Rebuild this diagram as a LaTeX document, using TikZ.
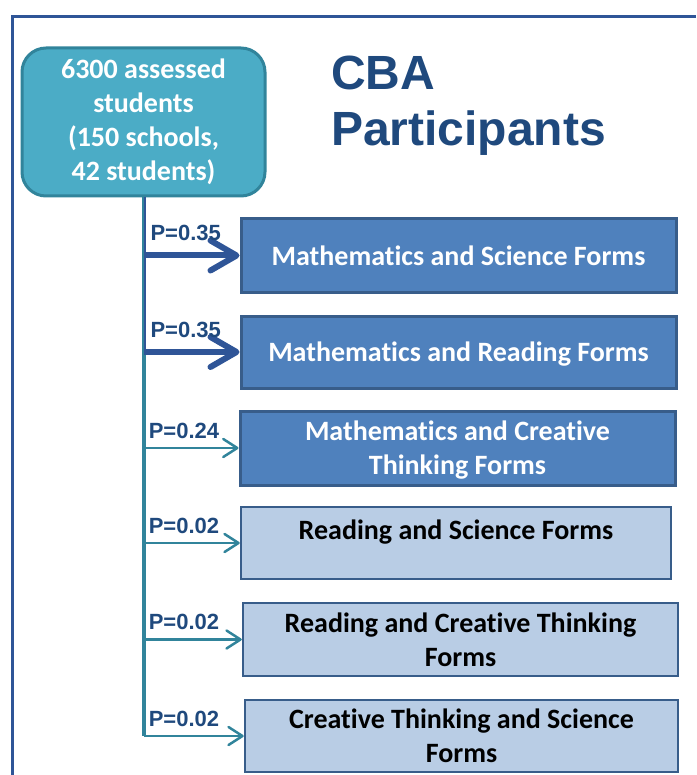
\documentclass[tikz,border=0pt]{standalone}
\usepackage{fontspec}
\setmainfont{Carlito}[Ligatures=NoCommon]
\newfontfamily\arialfont{Liberation Sans}
\usetikzlibrary{arrows.meta}
\usetikzlibrary{calc}
\definecolor{tealfill}{HTML}{4BACC6}
\definecolor{tealline}{HTML}{31849B}
\definecolor{bluefill}{HTML}{4F81BD}
\definecolor{blueline}{HTML}{385D8A}
\definecolor{lightfill}{HTML}{B9CDE5}
\definecolor{arrowblue}{HTML}{2F5597}
\definecolor{titleblue}{HTML}{1F497D}

\begin{document}
\begin{tikzpicture}[x=1pt,y=-1pt,
startbox/.style={draw=tealline,line width=3pt,fill=tealfill,rounded corners=24pt,minimum width=243pt,minimum height=148pt,inner sep=0pt,align=center,text=white,font=\fontsize{28}{34}\selectfont\bfseries},
darkform/.style={draw=blueline,line width=3pt,fill=bluefill,minimum width=435pt,minimum height=73pt,inner sep=0pt,text depth=0pt,align=center,text=white,font=\fontsize{28}{34}\selectfont\bfseries},
lightform/.style={darkform,line width=2.5pt,fill=lightfill,text=black},
bigarrow/.style={draw=arrowblue,line width=6pt,-{Straight Barb[length=26pt,width=30pt,round]}},
smallarrow/.style={draw=tealline,line width=2.5pt,-{Straight Barb[length=14pt,width=18pt,round]}},
plabel/.style={pos=0,anchor=base west,inner sep=0pt,xshift=4pt,text=titleblue,font=\arialfont\fontsize{22}{24}\selectfont\bfseries}]
\useasboundingbox (0,0) rectangle (696,775);
\draw[arrowblue,line width=3pt] (696,17) -- (12,17) -- (12,775);

\node[startbox] (start) at (143.5,122) {6300 assessed\\students\\(150 schools,\\42 students)};
\node[anchor=north west,inner sep=0pt,align=left,text=titleblue,font=\arialfont\fontsize{48}{56}\selectfont\bfseries] (title) at (331,56) {CBA\\Participants};

\node[darkform] (msform) at (458.5,255.5) {Mathematics and Science Forms};
\node[darkform,minimum height=72pt] (mrform) at (458.5,352) {Mathematics and Reading Forms};
\node[darkform,minimum height=74pt] (mcform) at (457.5,448) {Mathematics and Creative\\Thinking Forms};
\node[lightform,minimum width=430pt,minimum height=72pt,text depth=26pt] (rsform) at (456,543) {Reading and Science Forms};
\node[lightform] (rcform) at (460.5,639.5) {Reading and Creative Thinking\\Forms};
\node[lightform,minimum width=433pt,minimum height=72pt] (csform) at (461.5,736) {Creative Thinking and Science\\Forms};

\draw[tealline,line width=4pt] (start.south) -- (start.south |- csform.west);
\draw[arrowblue,line width=2.5pt] ($(start.south)+(1.5,0)$) -- ($(start.south |- mrform.west)+(1.5,0)$);

\path (start.south |- msform.west) edge[bigarrow] node[plabel,yshift=15pt] {P=0.35} (msform.west);
\path (start.south |- mrform.west) edge[bigarrow] node[plabel,yshift=15pt] {P=0.35} (mrform.west);
\path (start.south |- mcform.west) edge[smallarrow] node[plabel,yshift=10pt] {P=0.24} (mcform.west);
\path (start.south |- rsform.west) edge[smallarrow] node[plabel,yshift=10pt] {P=0.02} (rsform.west);
\path (start.south |- rcform.west) edge[smallarrow] node[plabel,yshift=10pt] {P=0.02} (rcform.west);
\path (start.south |- csform.west) edge[smallarrow] node[plabel,yshift=10pt] {P=0.02} (csform.west);
\end{tikzpicture}
\end{document}
